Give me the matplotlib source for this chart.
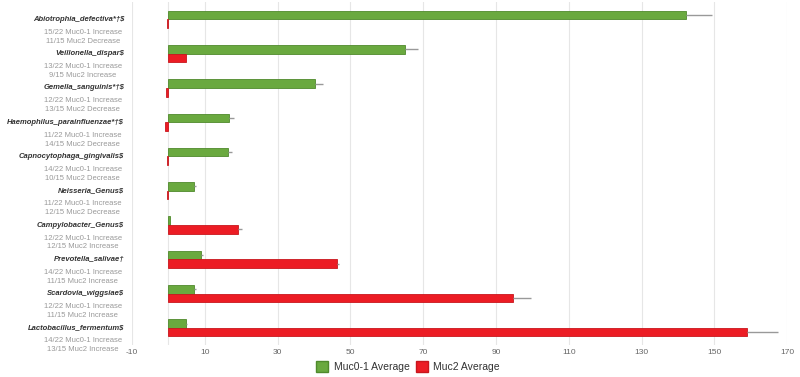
import matplotlib
matplotlib.use("Agg")
import matplotlib.pyplot as plt
from matplotlib.patches import Patch
import numpy as np

species = ["Abiotrophia_defectiva*†$", "Veillonella_dispar$", "Gemella_sanguinis*†$",
           "Haemophilus_parainfluenzae*†$", "Capnocytophaga_gingivalis$", "Neisseria_Genus$",
           "Campylobacter_Genus$", "Prevotella_salivae†", "Scardovia_wiggsiae$",
           "Lactobacillus_fermentum$"]
muc01_line = ["15/22 Muc0-1 Increase", "13/22 Muc0-1 Increase", "12/22 Muc0-1 Increase",
              "11/22 Muc0-1 Increase", "14/22 Muc0-1 Increase", "11/22 Muc0-1 Increase",
              "12/22 Muc0-1 Increase", "14/22 Muc0-1 Increase", "12/22 Muc0-1 Increase",
              "14/22 Muc0-1 Increase"]
muc2_line = ["11/15 Muc2 Decrease", "9/15 Muc2 Increase", "13/15 Muc2 Decrease",
             "14/15 Muc2 Decrease", "10/15 Muc2 Decrease", "12/15 Muc2 Decrease",
             "12/15 Muc2 Increase", "11/15 Muc2 Increase", "11/15 Muc2 Increase",
             "13/15 Muc2 Increase"]
muc01_avg = [142.2, 65.0, 40.3, 16.7, 16.4, 7.0, 0.5, 9.0, 7.0, 4.7]
muc01_err = [7.2, 3.6, 2.2, 1.2, 1.0, 0.7, 0.0, 0.5, 0.5, 0.5]
muc2_avg = [-0.3, 4.7, -0.6, -0.9, -0.3, -0.5, 19.0, 46.3, 94.7, 159.0]
muc2_err = [0.0, 0.0, 0.0, 0.0, 0.0, 0.0, 1.2, 0.5, 5.0, 8.5]
xticks = [-10, 10, 30, 50, 70, 90, 110, 130, 150, 170]

green = "#6aa93f"
green_edge = "#4f8a2c"
red = "#ec1c24"
red_edge = "#c8161d"

fig = plt.figure(figsize=(8, 3.77), dpi=100)
ax = fig.add_axes([0.165, 0.085, 0.819, 0.909])

n = len(species)
y = np.arange(n)
h = 0.25
ax.barh(y - h / 2, muc01_avg, height=h, color=green, edgecolor=green_edge, linewidth=0.6, zorder=3)
ax.barh(y + h / 2, muc2_avg, height=h, color=red, edgecolor=red_edge, linewidth=0.6, zorder=3)
ax.errorbar(muc01_avg, y - h / 2, xerr=[np.zeros(n), muc01_err], fmt="none",
            ecolor="#999999", elinewidth=1, capsize=0, zorder=4)
ax.errorbar(muc2_avg, y + h / 2, xerr=[np.zeros(n), muc2_err], fmt="none",
            ecolor="#999999", elinewidth=1, capsize=0, zorder=4)

ax.set_xlim(-10, 170)
ax.set_ylim(n - 0.5, -0.5)
ax.set_xticks(xticks)
ax.set_xticklabels([str(t) for t in xticks], fontsize=6, color="#666666",
                   family="Liberation Sans")
ax.set_yticks([])
ax.tick_params(axis="x", length=0, pad=3)
for s in ax.spines.values():
    s.set_visible(False)
ax.grid(axis="x", color="#e6e6e6", linewidth=0.8, zorder=0)
ax.axvline(0, color="#e6e6e6", linewidth=0.8, zorder=1)

tr = ax.get_yaxis_transform()
for i in range(n):
    ax.text(-0.012, i, species[i], transform=tr, ha="right", va="center",
            fontsize=5.5, fontweight="bold", fontstyle="italic", color="#333333",
            family="Liberation Sans")
    ax.text(-0.075, i + 0.38, muc01_line[i], transform=tr, ha="center", va="center",
            fontsize=5.5, color="#999999", family="Liberation Sans")
    ax.text(-0.075, i + 0.64, muc2_line[i], transform=tr, ha="center", va="center",
            fontsize=5.5, color="#999999", family="Liberation Sans")

handles = [Patch(facecolor=green, edgecolor=green_edge), Patch(facecolor=red, edgecolor=red_edge)]
leg = fig.legend(handles, ["Muc0-1 Average", "Muc2 Average"], loc="center",
                 bbox_to_anchor=(0.51, 0.027), ncol=2, frameon=False,
                 handlelength=1.2, handleheight=1.2, handletextpad=0.5, columnspacing=0.6,
                 prop={"family": "Liberation Sans", "size": 7.5})
for t in leg.get_texts():
    t.set_color("#333333")

fig.savefig("out.png", dpi=100)
